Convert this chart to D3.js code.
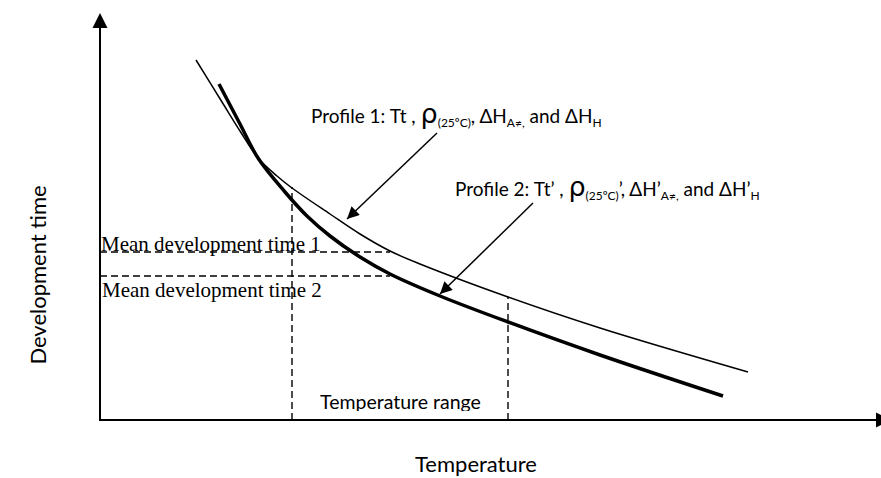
<!DOCTYPE html>
<html>
<head>
<meta charset="utf-8">
<script src="https://cdn.jsdelivr.net/npm/d3@7"></script>
<style>
  body { margin: 0; background: #fff; }
  svg { display: block; }
</style>
</head>
<body>
<div id="chart"></div>
<script>
// curve data (temperature / development time, arbitrary units)
var temps1 = [9.6, 12.2, 14.0, 15.8, 17.7, 19.2, 23.0, 26.0, 29.0, 32.0, 40.8, 50.0, 64.8];
var times1 = [36.0, 31.8, 28.9, 26.2, 24.4, 23.2, 20.6, 18.6, 16.9, 15.6, 12.3, 9.2, 4.8];
var temps2 = [11.9, 14.0, 15.8, 18.5, 20.7, 23.0, 26.0, 29.0, 34.0, 40.8, 50.0, 62.3];
var times2 = [33.6, 29.6, 26.2, 22.8, 20.4, 18.4, 16.3, 14.6, 12.4, 9.8, 6.5, 2.4];

var meanTimes = [16.8, 14.4];      // mean development time 1, 2
var meanEnd = 29.0;                // where the dashed guides stop
var rangeTemps = [19.2, 40.8];     // temperature range
var rangeTops = [23.3, 12.3];

var width = 881, height = 478;

var x = d3.scaleLinear().domain([0, 78]).range([100, 880]);
var y = d3.scaleLinear().domain([0, 40.6]).range([420, 14]);

var svg = d3.select("#chart").append("svg")
    .attr("width", width)
    .attr("height", height);

var defs = svg.append("defs");
defs.append("marker")
    .attr("id", "head")
    .attr("viewBox", "0 0 10 10")
    .attr("refX", 10).attr("refY", 5)
    .attr("markerWidth", 15).attr("markerHeight", 12)
    .attr("markerUnits", "userSpaceOnUse")
    .attr("orient", "auto")
  .append("path")
    .attr("d", "M0,0L10,5L0,10Z")
    .attr("fill", "#000");

defs.append("clipPath").attr("id", "cutText")
  .append("rect").attr("x", 0).attr("y", 0).attr("width", width).attr("height", 411);

// axes with arrow heads
svg.append("line")
    .attr("x1", x(0)).attr("y1", y(0))
    .attr("x2", x(0)).attr("y2", 28)
    .attr("stroke", "#000").attr("stroke-width", 2);
svg.append("path")
    .attr("d", "M" + (x(0) - 7.5) + ",28L" + x(0) + ",13L" + (x(0) + 7.5) + ",28Z")
    .attr("fill", "#000");

svg.append("line")
    .attr("x1", x(0) - 1).attr("y1", y(0))
    .attr("x2", 877).attr("y2", y(0))
    .attr("stroke", "#000").attr("stroke-width", 2);
svg.append("path")
    .attr("d", "M876," + (y(0) - 7.5) + "L891," + y(0) + "L876," + (y(0) + 7.5) + "Z")
    .attr("fill", "#000");

// dashed guides
var dashed = svg.append("g")
    .attr("stroke", "#000")
    .attr("stroke-width", 1.4)
    .attr("stroke-dasharray", "7,4");

dashed.selectAll(".h").data(meanTimes).enter().append("line")
    .attr("x1", x(0)).attr("x2", x(meanEnd))
    .attr("y1", function(d) { return y(d); })
    .attr("y2", function(d) { return y(d); });

dashed.selectAll(".v").data(rangeTemps).enter().append("line")
    .attr("x1", function(d) { return x(d); })
    .attr("x2", function(d) { return x(d); })
    .attr("y1", y(0))
    .attr("y2", function(d, i) { return y(rangeTops[i]); });

// the two profiles
var line = d3.line()
    .x(function(d) { return x(d[0]); })
    .y(function(d) { return y(d[1]); })
    .curve(d3.curveCatmullRom.alpha(0.5));

svg.append("path")
    .datum(d3.zip(temps1, times1))
    .attr("d", line)
    .attr("fill", "none").attr("stroke", "#000").attr("stroke-width", 1.5);

svg.append("path")
    .datum(d3.zip(temps2, times2))
    .attr("d", line)
    .attr("fill", "none").attr("stroke", "#000").attr("stroke-width", 3.5);

// pointers to the curves
var pointers = [[33.7, 28.7, 24.7, 20.1], [43.3, 21.7, 34.0, 12.6]];
svg.selectAll(".pointer").data(pointers).enter().append("line")
    .attr("x1", function(d) { return x(d[0]); })
    .attr("y1", function(d) { return y(d[1]); })
    .attr("x2", function(d) { return x(d[2]); })
    .attr("y2", function(d) { return y(d[3]); })
    .attr("stroke", "#000").attr("stroke-width", 1.5)
    .attr("marker-end", "url(#head)");

// labels
var sans = "Lato, 'Open Sans', sans-serif";

function profileLabel(px, py, parts) {
  var t = svg.append("text")
      .attr("x", px).attr("y", py)
      .attr("font-family", sans)
      .attr("fill", "#000");
  parts.forEach(function(p) {
    var s = t.append("tspan").attr("fill", "#000").text(p[0]);
    if (p[1] === "sub") {
      s.attr("font-size", 12).attr("y", py + 4);
    } else if (p[1] === "rho") {
      s.attr("font-size", 27).attr("y", py).attr("font-family", "'DejaVu Sans', sans-serif");
    } else {
      s.attr("font-size", 19).attr("y", py);
    }
  });
}

profileLabel(311, 123, [
  ["Profile 1: Tt , "], ["\u03C1", "rho"], ["(25\u00BAC)", "sub"],
  [", \u0394H"], ["A\u2260,", "sub"], [" and \u0394H"], ["H", "sub"]
]);

profileLabel(455, 196, [
  ["Profile 2: Tt\u2019 , "], ["\u03C1", "rho"], ["(25\u00BAC)", "sub"],
  ["\u2019, \u0394H\u2019"], ["A\u2260,", "sub"], [" and \u0394H\u2019"], ["H", "sub"]
]);

var serif = "'Liberation Serif', 'Times New Roman', serif";
svg.append("text")
    .attr("x", 101).attr("y", 251)
    .attr("font-family", serif).attr("font-size", 21)
    .text("Mean development time 1");
svg.append("text")
    .attr("x", 102).attr("y", 297)
    .attr("font-family", serif).attr("font-size", 21)
    .text("Mean development time 2");

svg.append("text")
    .attr("x", 320).attr("y", 409)
    .attr("clip-path", "url(#cutText)")
    .attr("font-family", sans).attr("font-size", 19.5)
    .text("Temperature range");

svg.append("text")
    .attr("x", 476).attr("y", 472)
    .attr("text-anchor", "middle")
    .attr("font-family", sans).attr("font-size", 22)
    .text("Temperature");

svg.append("text")
    .attr("transform", "translate(46,275) rotate(-90)")
    .attr("text-anchor", "middle")
    .attr("font-family", sans).attr("font-size", 22)
    .text("Development time");
</script>
</body>
</html>
